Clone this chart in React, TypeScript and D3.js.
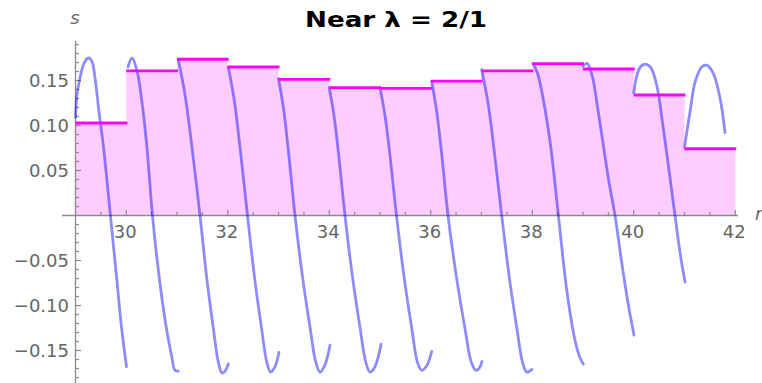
import { useMemo } from "react";
import * as d3 from "d3";

const width = 762;
const height = 383;

// step heights, one per unit interval [r, r+1)
const stepStarts = [29, 30, 31, 32, 33, 34, 35, 36, 37, 38, 39, 40, 41];
const stepValues = [
  0.1028, 0.1606, 0.1736, 0.165, 0.1513, 0.142, 0.1413, 0.1494, 0.1606,
  0.1687, 0.1628, 0.1339, 0.0742,
];
const stepEnd = 42;

const arc01 = [
  [29.0, 0.109], [29.03, 0.134], [29.089, 0.153], [29.167, 0.169], [29.252, 0.175],
  [29.325, 0.171], [29.384, 0.153], [29.463, 0.115], [29.548, 0.078], [29.688, 0],
  [29.81, -0.069], [29.908, -0.125], [30.005, -0.168],
];
const arc02 = [
  [30.034, 0.165], [30.113, 0.175], [30.212, 0.161], [30.3, 0.13], [30.4, 0.08],
  [30.517, 0], [30.62, -0.055], [30.77, -0.118], [30.89, -0.155], [30.96, -0.172],
  [31.026, -0.173],
];
const arc03 = [
  [31.026, 0.173], [31.158, 0.134], [31.29, 0.078], [31.453, 0], [31.585, -0.069],
  [31.715, -0.125], [31.814, -0.163], [31.887, -0.175], [31.946, -0.173], [32.011, -0.165],
];
const arc04 = [
  [32.011, 0.165], [32.128, 0.128], [32.245, 0.074], [32.389, 0], [32.528, -0.069],
  [32.665, -0.125], [32.769, -0.163], [32.846, -0.174], [32.93, -0.168], [33.01, -0.152],
];
const arc05 = [
  [33.0, 0.152], [33.101, 0.118], [33.202, 0.068], [33.325, 0], [33.475, -0.069],
  [33.623, -0.125], [33.735, -0.163], [33.818, -0.174], [33.916, -0.166], [34.015, -0.144],
];
const arc06 = [
  [34.0, 0.142], [34.096, 0.11], [34.192, 0.064], [34.31, 0], [34.46, -0.069],
  [34.608, -0.125], [34.72, -0.163], [34.803, -0.174], [34.9, -0.168], [35.02, -0.143],
];
const arc07 = [
  [35.0, 0.142], [35.101, 0.11], [35.202, 0.064], [35.325, 0], [35.476, -0.069],
  [35.625, -0.125], [35.738, -0.163], [35.822, -0.172], [35.92, -0.167], [36.019, -0.151],
];
const arc08 = [
  [36.019, 0.149], [36.119, 0.115], [36.218, 0.067], [36.34, 0], [36.508, -0.069],
  [36.673, -0.125], [36.799, -0.163], [36.892, -0.172], [36.95, -0.17], [37.01, -0.162],
];
const arc09 = [
  [37.004, 0.162], [37.126, 0.126], [37.248, 0.073], [37.398, 0], [37.548, -0.069],
  [37.696, -0.125], [37.808, -0.163], [37.891, -0.174], [37.995, -0.171],
];
const arc10 = [
  [38.015, 0.169], [38.11, 0.157], [38.22, 0.128], [38.36, 0.078], [38.515, 0],
  [38.68, -0.083], [38.84, -0.138], [38.94, -0.158], [39.006, -0.165],
];
const arc11 = [
  [39.0, 0.166], [39.079, 0.169], [39.177, 0.156], [39.301, 0.115], [39.498, 0.042],
  [39.631, 0], [39.762, -0.052], [39.892, -0.099], [40.005, -0.133],
];
const arc12 = [
  [40.0, 0.136], [40.064, 0.156], [40.143, 0.166], [40.255, 0.168], [40.34, 0.164],
  [40.452, 0.145], [40.582, 0.097], [40.714, 0.042], [40.813, 0], [40.911, -0.041],
  [41.01, -0.074],
];
const arc13 = [
  [41.0, 0.076], [41.108, 0.115], [41.207, 0.148], [41.339, 0.165], [41.437, 0.167],
  [41.567, 0.158], [41.699, 0.131], [41.798, 0.092],
];
const arcs = [arc01, arc02, arc03, arc04, arc05, arc06, arc07, arc08, arc09, arc10, arc11, arc12, arc13];

const xTickValues = [30, 32, 34, 36, 38, 40, 42];
const xTickLabels = ["30", "32", "34", "36", "38", "40", "42"];
const yTickValues = [-0.15, -0.1, -0.05, 0.05, 0.1, 0.15];
const yTickLabels = ["\u22120.15", "\u22120.10", "\u22120.05", "0.05", "0.10", "0.15"];

const axisColor = "#8a8a8a";
const labelColor = "#666";
const font = "'DejaVu Sans', Verdana, sans-serif";

export default function App() {
  const x = useMemo(() => d3.scaleLinear().domain([29, 42]).range([75.5, 735.25]), []);
  const y = useMemo(() => d3.scaleLinear().domain([-0.1861, 0.1939]).range([383, 41]), []);

  const stepPts = stepStarts.map((r, i) => [r, stepValues[i]]);
  stepPts.push([stepEnd, stepValues[stepValues.length - 1]]);

  const fillPath = d3
    .area<number[]>()
    .x((d) => x(d[0]))
    .y0(y(0))
    .y1((d) => y(d[1]))
    .curve(d3.curveStepAfter)(stepPts);

  const curveLine = d3
    .line<number[]>()
    .x((d) => x(d[0]))
    .y((d) => y(d[1]))
    .curve(d3.curveCatmullRom.alpha(0.5));

  const xMinor = d3.range(29.5, 42.01, 0.5);
  const yMinor = d3.range(-18, 20).map((k) => k / 100).filter((v) => Math.abs(v) > 1e-9);

  return (
    <svg
      width={width}
      height={height}
      style={{ position: "absolute", left: 0, top: 0, background: "#fff" }}
      fontFamily={font}
    >
      <path d={fillPath ?? ""} fill="#ffccff" />

      {/* axes */}
      <line x1={62} x2={738} y1={y(0)} y2={y(0)} stroke={axisColor} strokeWidth={1.3} />
      <line x1={x(29)} x2={x(29)} y1={41} y2={height} stroke={axisColor} strokeWidth={1.3} />
      {xMinor.map((v) => {
        const major = Math.abs(v % 2) < 1e-9;
        return (
          <line
            key={"xt" + v}
            x1={x(v)}
            x2={x(v)}
            y1={y(0)}
            y2={y(0) - (major ? 5.5 : 3.5)}
            stroke={axisColor}
            strokeWidth={1.2}
          />
        );
      })}
      {yMinor.map((v) => {
        const major = Math.abs(Math.round(v * 100) % 5) === 0;
        return (
          <line
            key={"yt" + v}
            x1={x(29)}
            x2={x(29) + (major ? 5.5 : 3.5)}
            y1={y(v)}
            y2={y(v)}
            stroke={axisColor}
            strokeWidth={1.2}
          />
        );
      })}
      {xTickValues.map((v, i) => (
        <text
          key={"xl" + v}
          x={x(v) - 1}
          y={238}
          textAnchor="middle"
          fontSize={18}
          fill={labelColor}
        >
          {xTickLabels[i]}
        </text>
      ))}
      {yTickValues.map((v, i) => (
        <text
          key={"yl" + v}
          x={69}
          y={y(v)}
          dy="0.36em"
          textAnchor="end"
          fontSize={18}
          fill={labelColor}
        >
          {yTickLabels[i]}
        </text>
      ))}
      <text x={75} y={24} textAnchor="middle" fontSize={18} fontStyle="italic" fill={labelColor}>
        s
      </text>
      <text x={755} y={220} fontSize={18} fontStyle="italic" fill={labelColor}>
        r
      </text>

      {/* blue branches */}
      {arcs.map((a, i) => (
        <path
          key={"arc" + i}
          d={curveLine(a) ?? ""}
          fill="none"
          stroke="rgb(0,0,255)"
          strokeOpacity={0.45}
          strokeWidth={2.8}
          strokeLinecap="round"
        />
      ))}

      {/* step tops */}
      {stepStarts.map((r, i) => (
        <line
          key={"st" + r}
          x1={x(r)}
          x2={x(r + 1) + 1}
          y1={y(stepValues[i])}
          y2={y(stepValues[i])}
          stroke="#ff00ff"
          strokeWidth={2.8}
        />
      ))}

      <text
        x={396}
        y={27}
        textAnchor="middle"
        fontSize={20.5}
        fontWeight="bold"
        fill="#000"
        textLength={182}
        lengthAdjust="spacingAndGlyphs"
      >
        Near λ = 2/1
      </text>
    </svg>
  );
}
